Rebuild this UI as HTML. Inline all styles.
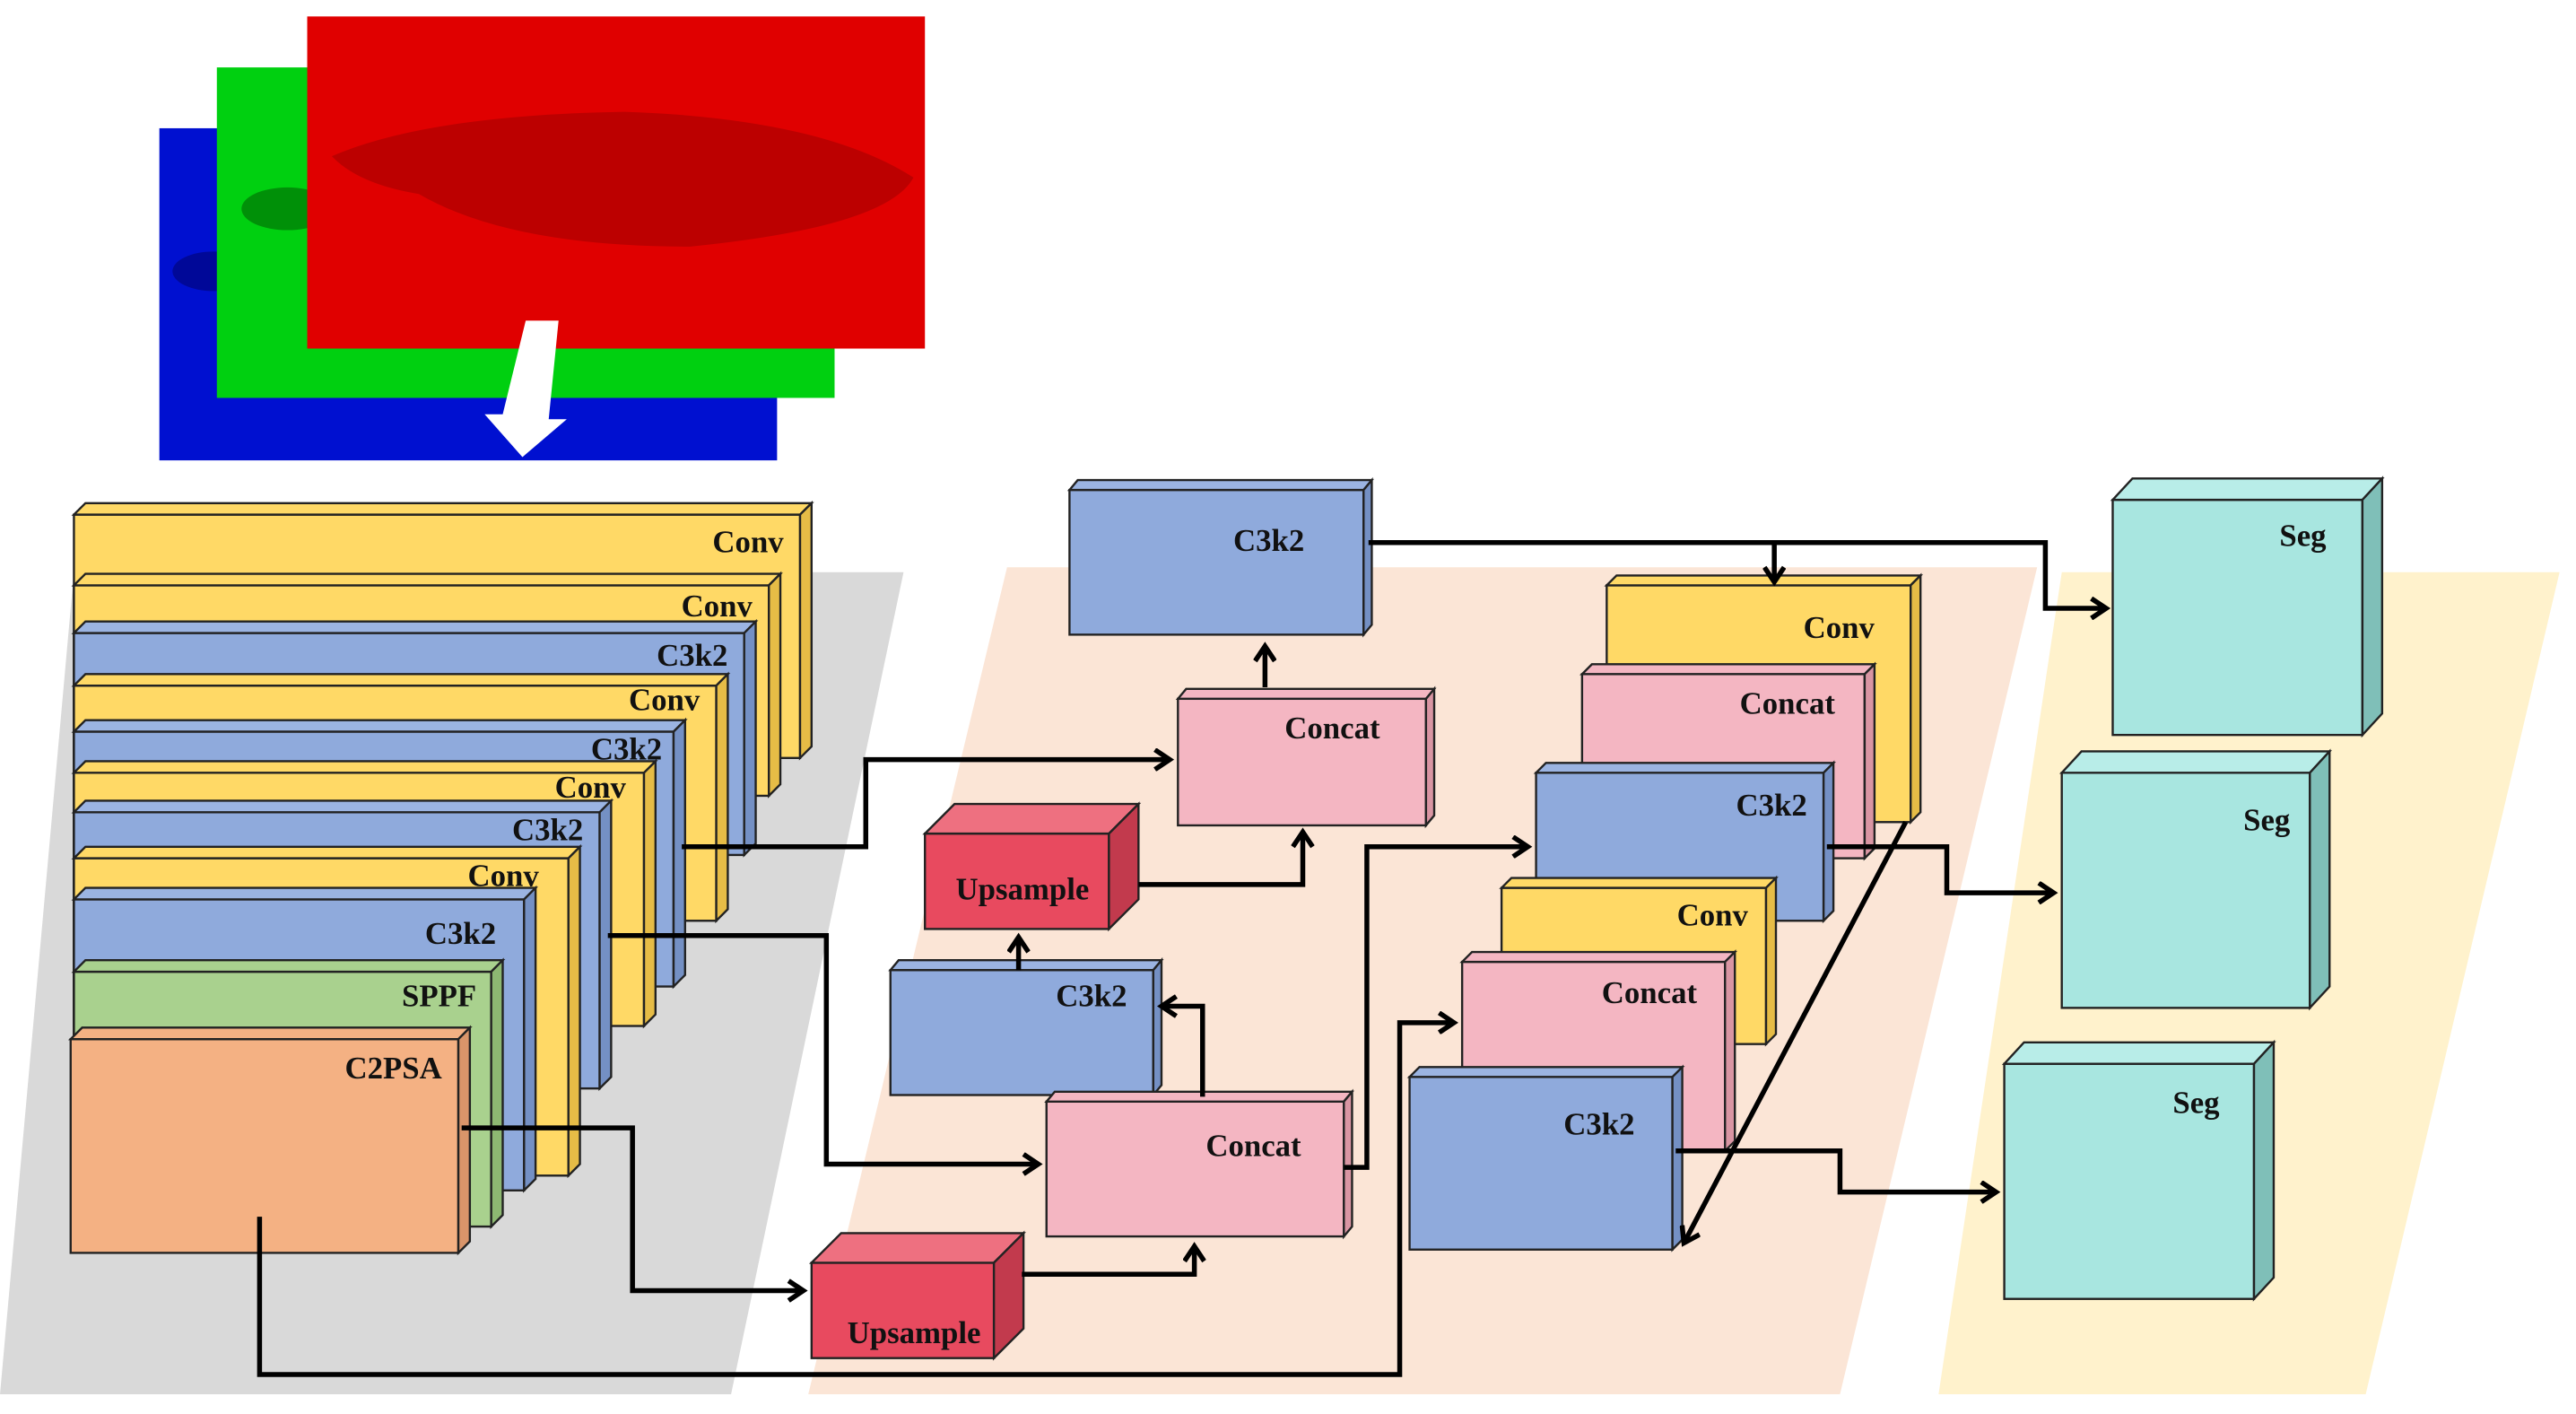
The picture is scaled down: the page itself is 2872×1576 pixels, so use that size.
<!DOCTYPE html>
<html><head><meta charset="utf-8"><style>
html,body{margin:0;padding:0;background:#fff;}
svg{display:block;}
text{font-family:"Liberation Serif",serif;font-weight:bold;font-size:19px;fill:#111;text-anchor:end;}
.k{stroke:#222;stroke-width:1.3;}
.c{fill:none;stroke:#000;stroke-width:3;}
</style></head><body>
<svg width="2872" height="1576" viewBox="0 0 1568 860" preserveAspectRatio="none" xmlns="http://www.w3.org/2000/svg">
<defs>
<marker id="a" markerWidth="14" markerHeight="14" refX="11" refY="7" orient="auto" markerUnits="userSpaceOnUse">
<polyline points="2,1 11,7 2,13" fill="none" stroke="#000" stroke-width="3"/>
</marker>
</defs>
<polygon points="45,348 550,348 445,848 0,848" fill="#d9d9d9"/>
<polygon points="613,345 1240,345 1120,848 492,848" fill="#fbe5d6"/>
<polygon points="1255,348 1558,348 1440,848 1180,848" fill="#fff2cc"/>

<rect x="97" y="78" width="376" height="202" fill="#0010d0"/>
<ellipse cx="130" cy="165" rx="25" ry="12" fill="#000060" opacity="0.5"/>
<rect x="132" y="41" width="376" height="201" fill="#00d010"/>
<ellipse cx="175" cy="127" rx="28" ry="13" fill="#005000" opacity="0.5"/>
<rect x="187" y="10" width="376" height="202" fill="#e00000"/>
<path d="M202,95 Q260,70 380,68 Q500,72 556,108 Q540,138 420,150 Q310,150 255,118 Q218,112 202,95 Z" fill="#900000" opacity="0.45"/>
<polygon points="320,195 340,195 334,255 345,255 318,278 295,252 306,252" fill="#fff"/>

<g class="k">
<rect x="45" y="313" width="442" height="148" fill="#FFD966"/><polygon points="45,313 52,306 494,306 487,313" fill="#FFD966"/><polygon points="487,313 494,306 494,454 487,461" fill="#E6BC46"/>
<rect x="45" y="356" width="423" height="128" fill="#FFD966"/><polygon points="45,356 52,349 475,349 468,356" fill="#FFD966"/><polygon points="468,356 475,349 475,477 468,484" fill="#E6BC46"/>
<rect x="45" y="385" width="408" height="135" fill="#8FAADC"/><polygon points="45,385 52,378 460,378 453,385" fill="#9BB4E2"/><polygon points="453,385 460,378 460,513 453,520" fill="#7490C4"/>
<rect x="45" y="417" width="391" height="143" fill="#FFD966"/><polygon points="45,417 52,410 443,410 436,417" fill="#FFD966"/><polygon points="436,417 443,410 443,553 436,560" fill="#E6BC46"/>
<rect x="45" y="445" width="365" height="155" fill="#8FAADC"/><polygon points="45,445 52,438 417,438 410,445" fill="#9BB4E2"/><polygon points="410,445 417,438 417,593 410,600" fill="#7490C4"/>
<rect x="45" y="470" width="347" height="154" fill="#FFD966"/><polygon points="45,470 52,463 399,463 392,470" fill="#FFD966"/><polygon points="392,470 399,463 399,617 392,624" fill="#E6BC46"/>
<rect x="45" y="494" width="320" height="168" fill="#8FAADC"/><polygon points="45,494 52,487 372,487 365,494" fill="#9BB4E2"/><polygon points="365,494 372,487 372,655 365,662" fill="#7490C4"/>
<rect x="45" y="522" width="301" height="193" fill="#FFD966"/><polygon points="45,522 52,515 353,515 346,522" fill="#FFD966"/><polygon points="346,522 353,515 353,708 346,715" fill="#E6BC46"/>
<rect x="45" y="547" width="274" height="177" fill="#8FAADC"/><polygon points="45,547 52,540 326,540 319,547" fill="#9BB4E2"/><polygon points="319,547 326,540 326,717 319,724" fill="#7490C4"/>
<rect x="45" y="591" width="254" height="155" fill="#A9D18E"/><polygon points="45,591 52,584 306,584 299,591" fill="#A9D18E"/><polygon points="299,591 306,584 306,739 299,746" fill="#8DB872"/>
<rect x="43" y="632" width="236" height="130" fill="#F4B183"/><polygon points="43,632 50,625 286,625 279,632" fill="#F4B183"/><polygon points="279,632 286,625 286,755 279,762" fill="#D9956A"/>
</g>
<text x="477" y="336">Conv</text>
<text x="458" y="375">Conv</text>
<text x="443" y="405">C3k2</text>
<text x="426" y="432">Conv</text>
<text x="403" y="462">C3k2</text>
<text x="381" y="485">Conv</text>
<text x="355" y="511">C3k2</text>
<text x="328" y="539">Conv</text>
<text x="302" y="574">C3k2</text>
<text x="290" y="612">SPPF</text>
<text x="269" y="656">C2PSA</text>

<g class="k">
<rect x="651" y="298" width="179" height="88" fill="#8FAADC"/><polygon points="651,298 656,292 835,292 830,298" fill="#9BB4E2"/><polygon points="830,298 835,292 835,380 830,386" fill="#7490C4"/>
<rect x="717" y="425" width="151" height="77" fill="#F4B6C2"/><polygon points="717,425 722,419 873,419 868,425" fill="#F4B6C2"/><polygon points="868,425 873,419 873,496 868,502" fill="#D995A3"/>
<rect x="563" y="507" width="112" height="58" fill="#E84A5F"/><polygon points="563,507 581,489 693,489 675,507" fill="#EE7080"/><polygon points="675,507 693,489 693,547 675,565" fill="#C23A4D"/>
<rect x="542" y="590" width="160" height="76" fill="#8FAADC"/><polygon points="542,590 547,584 707,584 702,590" fill="#9BB4E2"/><polygon points="702,590 707,584 707,660 702,666" fill="#7490C4"/>
<rect x="637" y="670" width="181" height="82" fill="#F4B6C2"/><polygon points="637,670 642,664 823,664 818,670" fill="#F4B6C2"/><polygon points="818,670 823,664 823,746 818,752" fill="#D995A3"/>
<rect x="494" y="768" width="111" height="58" fill="#E84A5F"/><polygon points="494,768 512,750 623,750 605,768" fill="#EE7080"/><polygon points="605,768 623,750 623,808 605,826" fill="#C23A4D"/>
<rect x="978" y="356" width="185" height="144" fill="#FFD966"/><polygon points="978,356 984,350 1169,350 1163,356" fill="#FFD966"/><polygon points="1163,356 1169,350 1169,494 1163,500" fill="#E6BC46"/>
<rect x="963" y="410" width="172" height="112" fill="#F4B6C2"/><polygon points="963,410 969,404 1141,404 1135,410" fill="#F4B6C2"/><polygon points="1135,410 1141,404 1141,516 1135,522" fill="#D995A3"/>
<rect x="935" y="470" width="175" height="90" fill="#8FAADC"/><polygon points="935,470 941,464 1116,464 1110,470" fill="#9BB4E2"/><polygon points="1110,470 1116,464 1116,554 1110,560" fill="#7490C4"/>
<rect x="914" y="540" width="161" height="95" fill="#FFD966"/><polygon points="914,540 920,534 1081,534 1075,540" fill="#FFD966"/><polygon points="1075,540 1081,534 1081,629 1075,635" fill="#E6BC46"/>
<rect x="890" y="585" width="160" height="115" fill="#F4B6C2"/><polygon points="890,585 896,579 1056,579 1050,585" fill="#F4B6C2"/><polygon points="1050,585 1056,579 1056,694 1050,700" fill="#D995A3"/>
<rect x="858" y="655" width="160" height="105" fill="#8FAADC"/><polygon points="858,655 864,649 1024,649 1018,655" fill="#9BB4E2"/><polygon points="1018,655 1024,649 1024,754 1018,760" fill="#7490C4"/>
<rect x="1286" y="304" width="152" height="143" fill="#A8E6E0"/><polygon points="1286,304 1298,291 1450,291 1438,304" fill="#B8EDE8"/><polygon points="1438,304 1450,291 1450,434 1438,447" fill="#7FBFB8"/>
<rect x="1255" y="470" width="151" height="143" fill="#A8E6E0"/><polygon points="1255,470 1267,457 1418,457 1406,470" fill="#B8EDE8"/><polygon points="1406,470 1418,457 1418,600 1406,613" fill="#7FBFB8"/>
<rect x="1220" y="647" width="152" height="143" fill="#A8E6E0"/><polygon points="1220,647 1232,634 1384,634 1372,647" fill="#B8EDE8"/><polygon points="1372,647 1384,634 1384,777 1372,790" fill="#7FBFB8"/>
</g>
<text x="794" y="335">C3k2</text>
<text x="840" y="449">Concat</text>
<text x="663" y="547">Upsample</text>
<text x="686" y="612">C3k2</text>
<text x="792" y="703">Concat</text>
<text x="597" y="817">Upsample</text>
<text x="1141" y="388">Conv</text>
<text x="1117" y="434">Concat</text>
<text x="1100" y="496">C3k2</text>
<text x="1064" y="563">Conv</text>
<text x="1033" y="610">Concat</text>
<text x="995" y="690">C3k2</text>
<text x="1416" y="332">Seg</text>
<text x="1394" y="505">Seg</text>
<text x="1351" y="677">Seg</text>

<polyline class="c" points="415,515 527,515 527,462 712,462" marker-end="url(#a)"/>
<polyline class="c" points="370,569 503,569 503,708 632,708" marker-end="url(#a)"/>
<polyline class="c" points="281,686 385,686 385,785 489,785" marker-end="url(#a)"/>
<polyline class="c" points="158,740 158,836 852,836 852,622 885,622" marker-end="url(#a)"/>
<polyline class="c" points="622,775 727,775 727,758" marker-end="url(#a)"/>
<polyline class="c" points="732,667 732,612 707,612" marker-end="url(#a)"/>
<polyline class="c" points="620,590 620,570" marker-end="url(#a)"/>
<polyline class="c" points="693,538 793,538 793,506" marker-end="url(#a)"/>
<polyline class="c" points="770,418 770,393" marker-end="url(#a)"/>
<polyline class="c" points="818,710 832,710 832,515 930,515" marker-end="url(#a)"/>
<polyline class="c" points="833,330 1245,330 1245,370 1282,370" marker-end="url(#a)"/>
<polyline class="c" points="1080,330 1080,354" marker-end="url(#a)"/>
<polyline class="c" points="1112,515 1185,515 1185,543 1250,543" marker-end="url(#a)"/>
<polyline class="c" points="1160,500 1025,756" marker-end="url(#a)"/>
<polyline class="c" points="1020,700 1120,700 1120,725 1215,725" marker-end="url(#a)"/>
</svg>
</body></html>
